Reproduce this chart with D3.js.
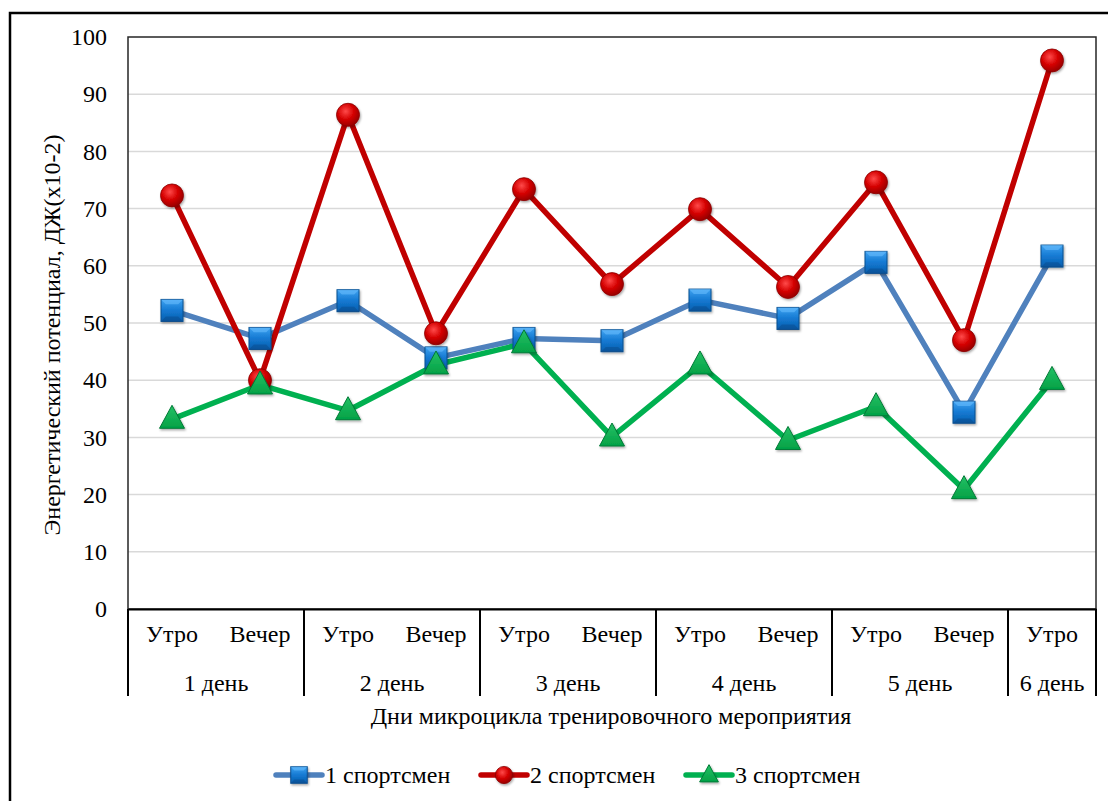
<!DOCTYPE html>
<html>
<head>
<meta charset="utf-8">
<script src="https://cdn.jsdelivr.net/npm/d3@7/dist/d3.min.js"></script>
<style>
  html, body { margin: 0; padding: 0; background: #fff; }
</style>
</head>
<body>
<svg id="chart" width="1108" height="801"></svg>
<script>
// Time slots of the training microcycle and the day each slot belongs to
const slots = ["Утро", "Вечер", "Утро", "Вечер", "Утро", "Вечер", "Утро", "Вечер", "Утро", "Вечер", "Утро"];
const days = ["1 день", "2 день", "3 день", "4 день", "5 день", "6 день"];
const slotsPerDay = [2, 2, 2, 2, 2, 1];

// Energy potential, J (x10-2)
const athlete1 = [52.2, 47.3, 53.9, 43.9, 47.3, 46.9, 54.0, 50.8, 60.6, 34.4, 61.7];
const athlete2 = [72.3, 40.0, 86.4, 48.2, 73.4, 56.8, 69.9, 56.3, 74.6, 47.0, 95.9];
const athlete3 = [33.2, 39.2, 34.7, 42.7, 46.4, 30.1, 42.7, 29.5, 35.4, 20.9, 40.0];
const seriesNames = ["1 спортсмен", "2 спортсмен", "3 спортсмен"];
const yTicks = [0, 10, 20, 30, 40, 50, 60, 70, 80, 90, 100];

const yTitle = "Энергетический потенциал, ДЖ(x10-2)";
const xTitle = "Дни микроцикла тренировочного мероприятия";

const FONT = 24;
const FAMILY = '"Liberation Serif"';
const svg = d3.select("#chart");
const plot = { left: 128, right: 1096, top: 37, bottom: 609 };

const x = d3.scaleBand().domain(d3.range(slots.length)).range([plot.left, plot.right]).padding(0);
const cx = i => x(i) + x.bandwidth() / 2;
const y = d3.scaleLinear().domain([0, 100]).range([plot.bottom, plot.top]);

const label = sel => sel.style("font-family", FAMILY).style("font-size", FONT + "px").attr("fill", "#000");

// Gradients for the bevelled markers
const defs = svg.append("defs");
const sq = defs.append("linearGradient").attr("id", "gSq").attr("x1", 0).attr("y1", 0).attr("x2", 0).attr("y2", 1);
sq.append("stop").attr("offset", "0%").attr("stop-color", "#3fa2f0");
sq.append("stop").attr("offset", "50%").attr("stop-color", "#1479d2");
sq.append("stop").attr("offset", "100%").attr("stop-color", "#0b5fae");
const ci = defs.append("radialGradient").attr("id", "gCi").attr("cx", "40%").attr("cy", "35%").attr("r", "65%");
ci.append("stop").attr("offset", "0%").attr("stop-color", "#ff4a4a");
ci.append("stop").attr("offset", "55%").attr("stop-color", "#d40000");
ci.append("stop").attr("offset", "100%").attr("stop-color", "#9a0000");
const tr = defs.append("linearGradient").attr("id", "gTr").attr("x1", 0).attr("y1", 0).attr("x2", 0).attr("y2", 1);
tr.append("stop").attr("offset", "0%").attr("stop-color", "#25c165");
tr.append("stop").attr("offset", "100%").attr("stop-color", "#03a146");
const sh = defs.append("filter").attr("id", "shadow").attr("x", "-30%").attr("y", "-30%").attr("width", "160%").attr("height", "160%");
sh.append("feDropShadow").attr("dx", 1).attr("dy", 1.5).attr("stdDeviation", 1.2).attr("flood-color", "#000").attr("flood-opacity", 0.35);

// Outer frame
svg.append("path")
  .attr("d", `M10,${801} L10,13 L1108,13`)
  .attr("fill", "none").attr("stroke", "#000").attr("stroke-width", 2.5);

// Horizontal gridlines
svg.append("g").selectAll("line")
  .data(yTicks.filter(t => t > 0 && t < 100))
  .join("line")
  .attr("x1", plot.left).attr("x2", plot.right)
  .attr("y1", d => y(d)).attr("y2", d => y(d))
  .attr("stroke", "#d9d9d9").attr("stroke-width", 1.5);

// Plot border
svg.append("rect")
  .attr("x", plot.left).attr("y", plot.top)
  .attr("width", plot.right - plot.left).attr("height", plot.bottom - plot.top)
  .attr("fill", "none").attr("stroke", "#262626").attr("stroke-width", 1.5);

// Y axis
const yAxis = d3.axisLeft(y).tickValues(yTicks).tickSize(0).tickPadding(21);
const gy = svg.append("g").attr("transform", `translate(${plot.left},0)`).call(yAxis);
gy.select(".domain").remove();
gy.selectAll("text").call(label);

// Category axis: slot labels
const xAxis = d3.axisBottom(x).tickSize(0).tickPadding(16).tickFormat(i => slots[i]);
const gx = svg.append("g").attr("transform", `translate(0,${plot.bottom})`).call(xAxis);
gx.select(".domain").attr("stroke", "#000").attr("stroke-width", 2);
gx.selectAll("text").call(label);

// Day groups: divider lines and labels
let start = 0;
const groups = slotsPerDay.map((n, k) => {
  const g = { day: days[k], from: start, to: start + n - 1 };
  start += n;
  return g;
});
const edges = groups.map(g => x(g.from)).concat([x(groups[groups.length - 1].to) + x.bandwidth()]);
svg.append("g").selectAll("line").data(edges).join("line")
  .attr("x1", d => d).attr("x2", d => d)
  .attr("y1", plot.bottom).attr("y2", 696)
  .attr("stroke", "#000").attr("stroke-width", 2);
svg.append("g").selectAll("text").data(groups).join("text")
  .attr("x", g => (x(g.from) + x(g.to) + x.bandwidth()) / 2)
  .attr("y", 691)
  .attr("text-anchor", "middle")
  .call(label)
  .text(g => g.day);

// Axis titles
svg.append("text")
  .attr("x", 611).attr("y", 724)
  .attr("text-anchor", "middle")
  .call(label)
  .text(xTitle);
svg.append("text")
  .attr("transform", `translate(60,335) rotate(-90)`)
  .attr("text-anchor", "middle")
  .call(label)
  .text(yTitle);

// Series
const series = [
  { name: seriesNames[0], values: athlete1, line: "#4f81bd", shape: "square" },
  { name: seriesNames[1], values: athlete2, line: "#c00000", shape: "circle" },
  { name: seriesNames[2], values: athlete3, line: "#00b050", shape: "triangle" }
];

const lineGen = d3.line().x((d, i) => cx(i)).y(d => y(d));
svg.append("g").selectAll("path").data(series).join("path")
  .attr("d", s => lineGen(s.values))
  .attr("fill", "none").attr("stroke", s => s.line)
  .attr("stroke-width", 5.5).attr("stroke-linejoin", "round").attr("stroke-linecap", "round");

function drawMarker(g, shape, px, py, scale) {
  const k = scale || 1;
  if (shape === "square") {
    const s = 22 * k;
    g.append("rect").attr("x", px - s / 2).attr("y", py - s / 2).attr("width", s).attr("height", s)
      .attr("fill", "url(#gSq)").attr("stroke", "#0a4f8f").attr("stroke-width", 1)
      .attr("filter", "url(#shadow)");
    // bevel facets
    const h = s / 2, b = s * 0.22;
    g.append("path")
      .attr("d", `M${px - h},${py - h} L${px + h},${py - h} L${px + h - b},${py - h + b} L${px - h + b},${py - h + b} Z`)
      .attr("fill", "#6cc0ff").attr("opacity", 0.55);
    g.append("path")
      .attr("d", `M${px - h},${py + h} L${px + h},${py + h} L${px + h - b},${py + h - b} L${px - h + b},${py + h - b} Z`)
      .attr("fill", "#073f78").attr("opacity", 0.35);
  } else if (shape === "circle") {
    g.append("circle").attr("cx", px).attr("cy", py).attr("r", 11.5 * k)
      .attr("fill", "url(#gCi)").attr("stroke", "#8a0000").attr("stroke-width", 0.8)
      .attr("filter", "url(#shadow)");
  } else {
    const w = 25 * k, hgt = 23 * k;
    g.append("path")
      .attr("d", `M${px},${py - hgt * 0.6} L${px + w / 2},${py + hgt * 0.4} L${px - w / 2},${py + hgt * 0.4} Z`)
      .attr("fill", "url(#gTr)").attr("stroke", "#027a36").attr("stroke-width", 1)
      .attr("filter", "url(#shadow)");
  }
}

series.forEach(s => {
  const g = svg.append("g");
  s.values.forEach((v, i) => drawMarker(g, s.shape, cx(i), y(v)));
});

// Legend
const legendItems = [
  { s: series[0], x0: 276, tx: 325 },
  { s: series[1], x0: 481, tx: 530 },
  { s: series[2], x0: 686, tx: 735 }
];
const ly = 775;
const lg = svg.append("g");
legendItems.forEach(it => {
  lg.append("line").attr("x1", it.x0).attr("x2", it.x0 + 46).attr("y1", ly).attr("y2", ly)
    .attr("stroke", it.s.line).attr("stroke-width", 5.5).attr("stroke-linecap", "round");
  drawMarker(lg, it.s.shape, it.x0 + 23, ly, 0.75);
  lg.append("text").attr("x", it.tx).attr("y", ly + 8)
    .call(label).text(it.s.name);
});
</script>
</body>
</html>
